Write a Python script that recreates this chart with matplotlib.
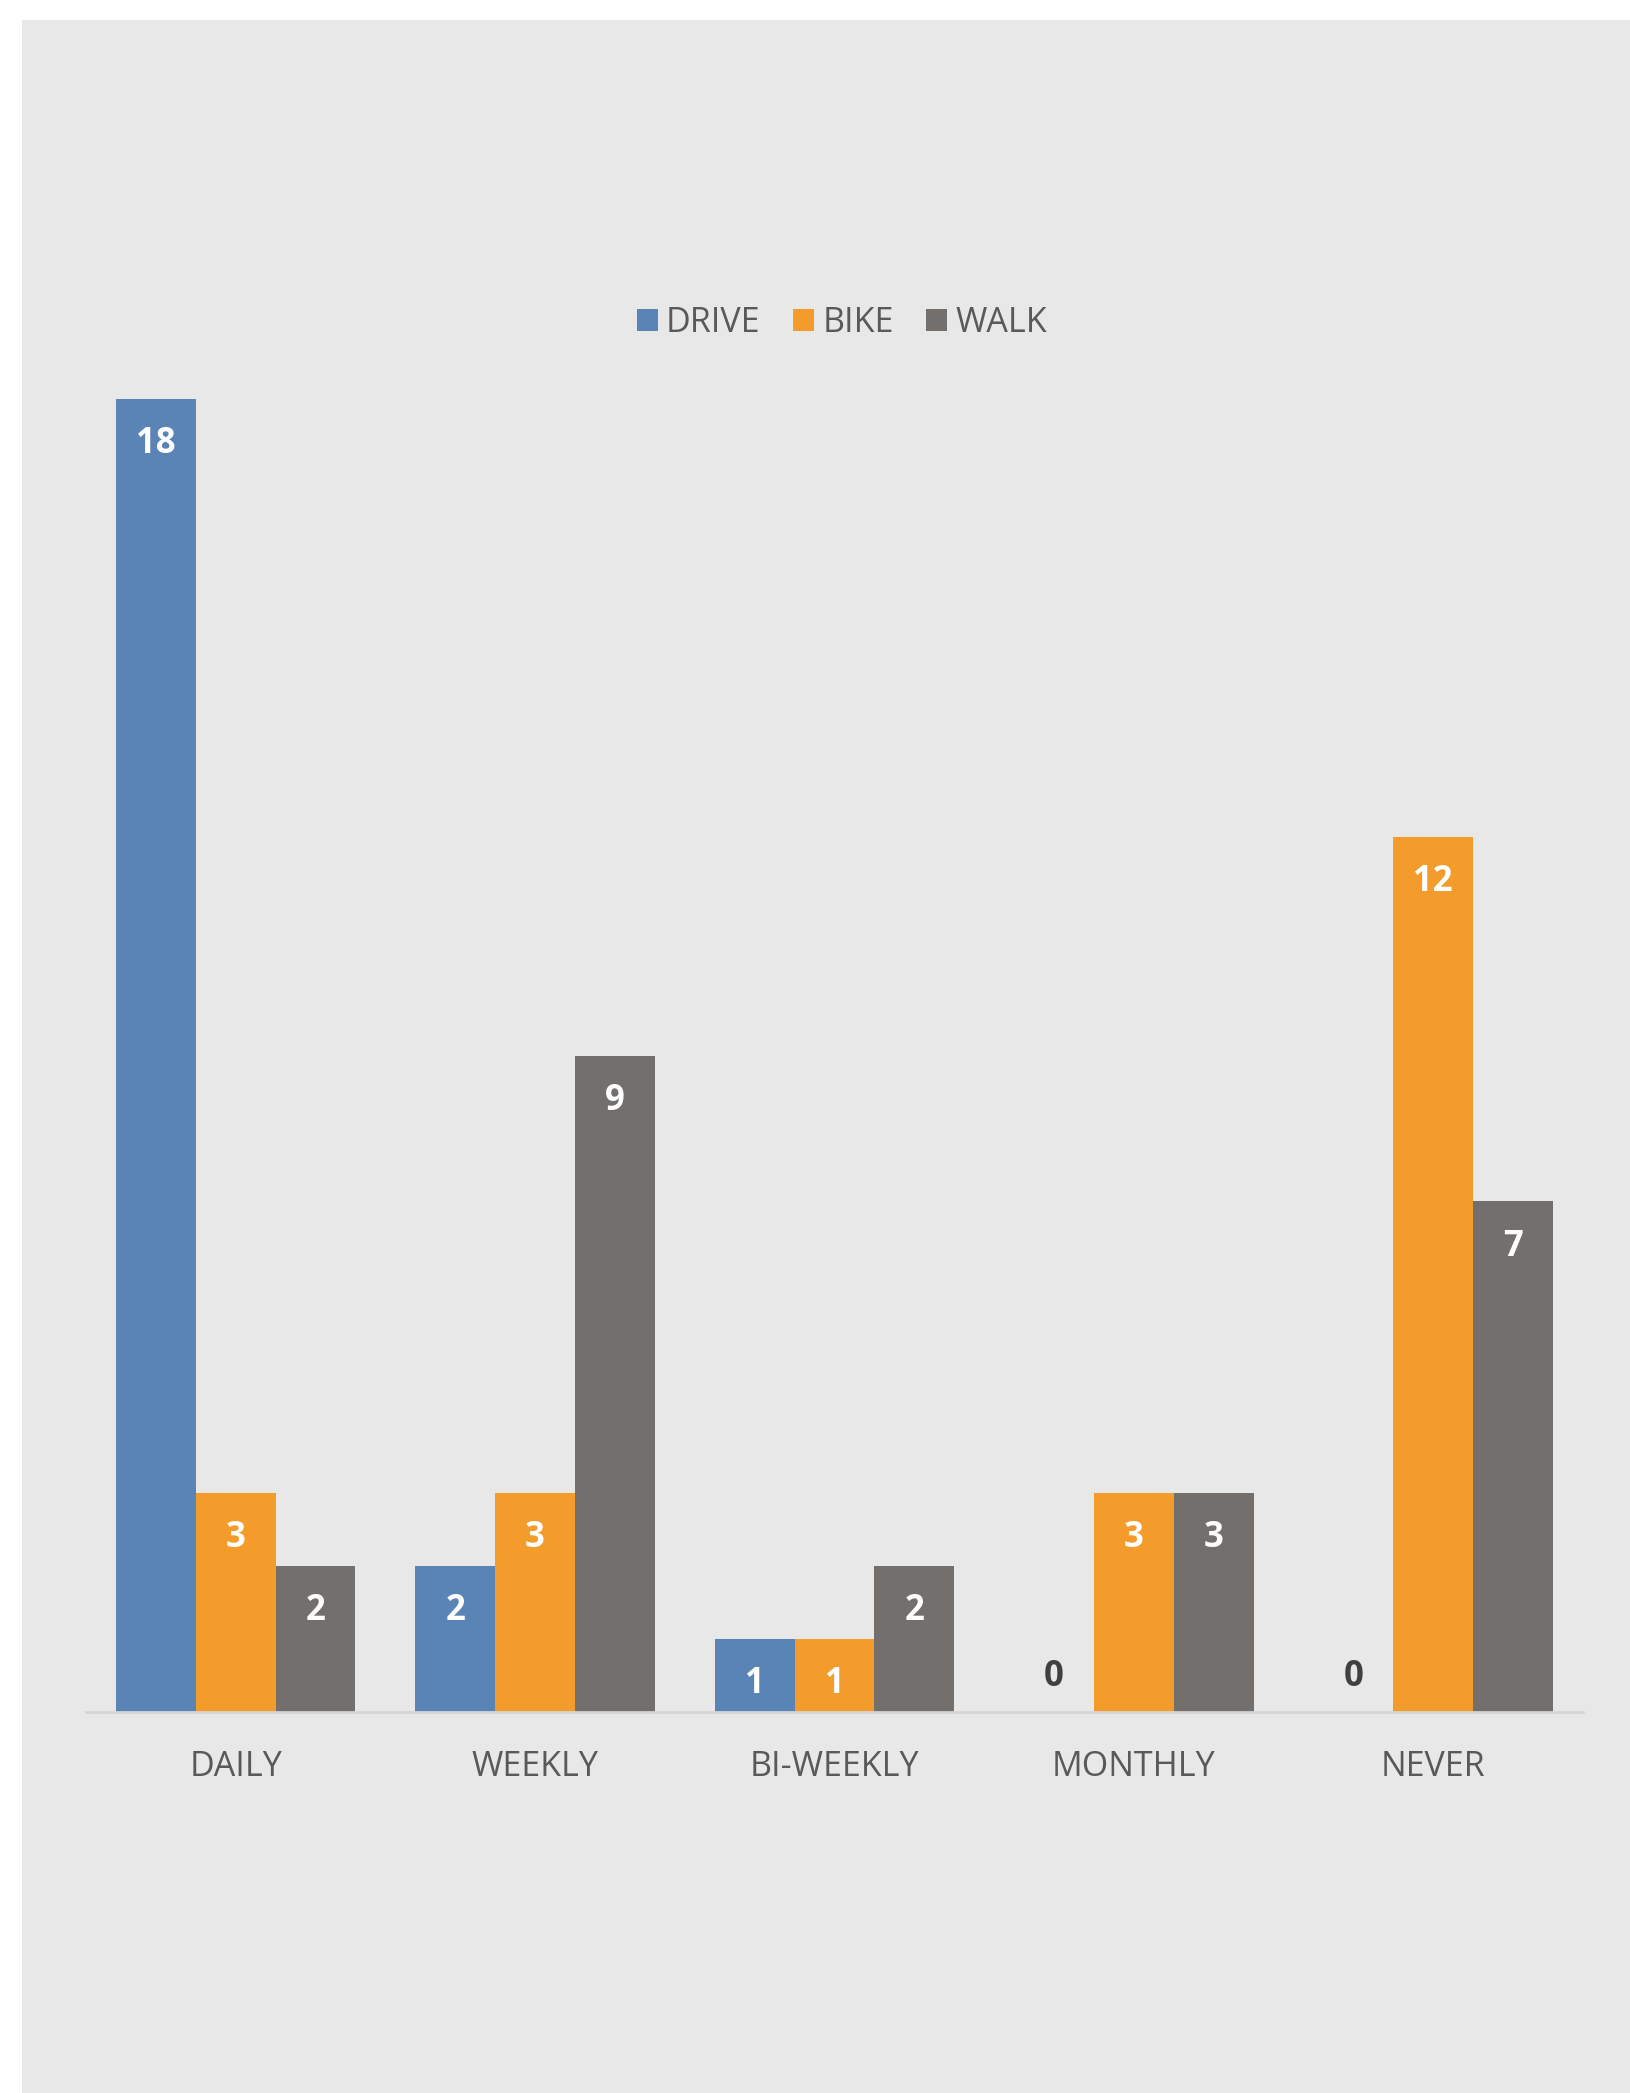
import matplotlib
matplotlib.use("Agg")
import matplotlib.pyplot as plt
from matplotlib.patches import Rectangle
import numpy as np

plt.rcParams['font.family'] = ['Open Sans', 'DejaVu Sans']

categories = ["DAILY", "WEEKLY", "BI-WEEKLY", "MONTHLY", "NEVER"]
series_names = ["DRIVE", "BIKE", "WALK"]
drive = [18, 2, 1, 0, 0]
bike = [3, 3, 1, 3, 12]
walk = [2, 9, 2, 3, 7]
colors = ["#5B84B6", "#F39C2B", "#736F6D"]

W, H = 1631, 2093
dpi = 100
fig = plt.figure(figsize=(W / dpi, H / dpi), dpi=dpi, facecolor="white")
bg = "#E7E8E7"
fig.patches.append(Rectangle((22 / W, 0), 1 - 22 / W, (H - 20) / H,
                             transform=fig.transFigure, facecolor=bg,
                             edgecolor="none", zorder=-10))

base_px = 1712
unit_px = (1712 - 399) / 18.0
ytop = 20
ax_left, ax_right = 86 / W, 1583 / W
ax_bottom = (H - base_px) / H
ax_h = ytop * unit_px / H
ax = fig.add_axes([ax_left, ax_bottom, ax_right - ax_left, ax_h])
ax.set_facecolor("none")

x = np.arange(len(categories))
w = 1 / 3.75
all_series = [drive, bike, walk]
for i, (name, vals, col) in enumerate(zip(series_names, all_series, colors)):
    xs = x + (i - 1) * w
    ax.bar(xs, vals, width=w, color=col, label=name, zorder=2)
    for xi, v in zip(xs, vals):
        if v == 0:
            ax.annotate(str(v), (xi, v), xytext=(0, 25.5), textcoords="offset points",
                        ha="center", va="center", fontsize=25, fontweight="bold",
                        color="#404040", zorder=3)
        else:
            ax.annotate(str(v), (xi, v), xytext=(0, -32.5), textcoords="offset points",
                        ha="center", va="center", fontsize=25, fontweight="bold",
                        color="white", zorder=3)

ax.set_xlim(-0.5, len(categories) - 0.5)
ax.set_ylim(0, ytop)
ax.set_yticks([])
ax.set_xticks(x)
ax.set_xticklabels(categories, fontsize=24.5, color="#595959")
ax.tick_params(axis="x", length=0, pad=27)
for s in ["top", "right", "left"]:
    ax.spines[s].set_visible(False)
ax.spines["bottom"].set_color("#D5D5D5")
ax.spines["bottom"].set_linewidth(2)

leg = fig.legend(loc="center", bbox_to_anchor=(842 / W, 1 - 323 / H),
                 ncol=3, frameon=False, fontsize=24.5, handlelength=0.62,
                 handleheight=0.62, handletextpad=0.25, columnspacing=0.95,
                 labelcolor="#595959")

fig.savefig("out.png", dpi=dpi, facecolor="white")
